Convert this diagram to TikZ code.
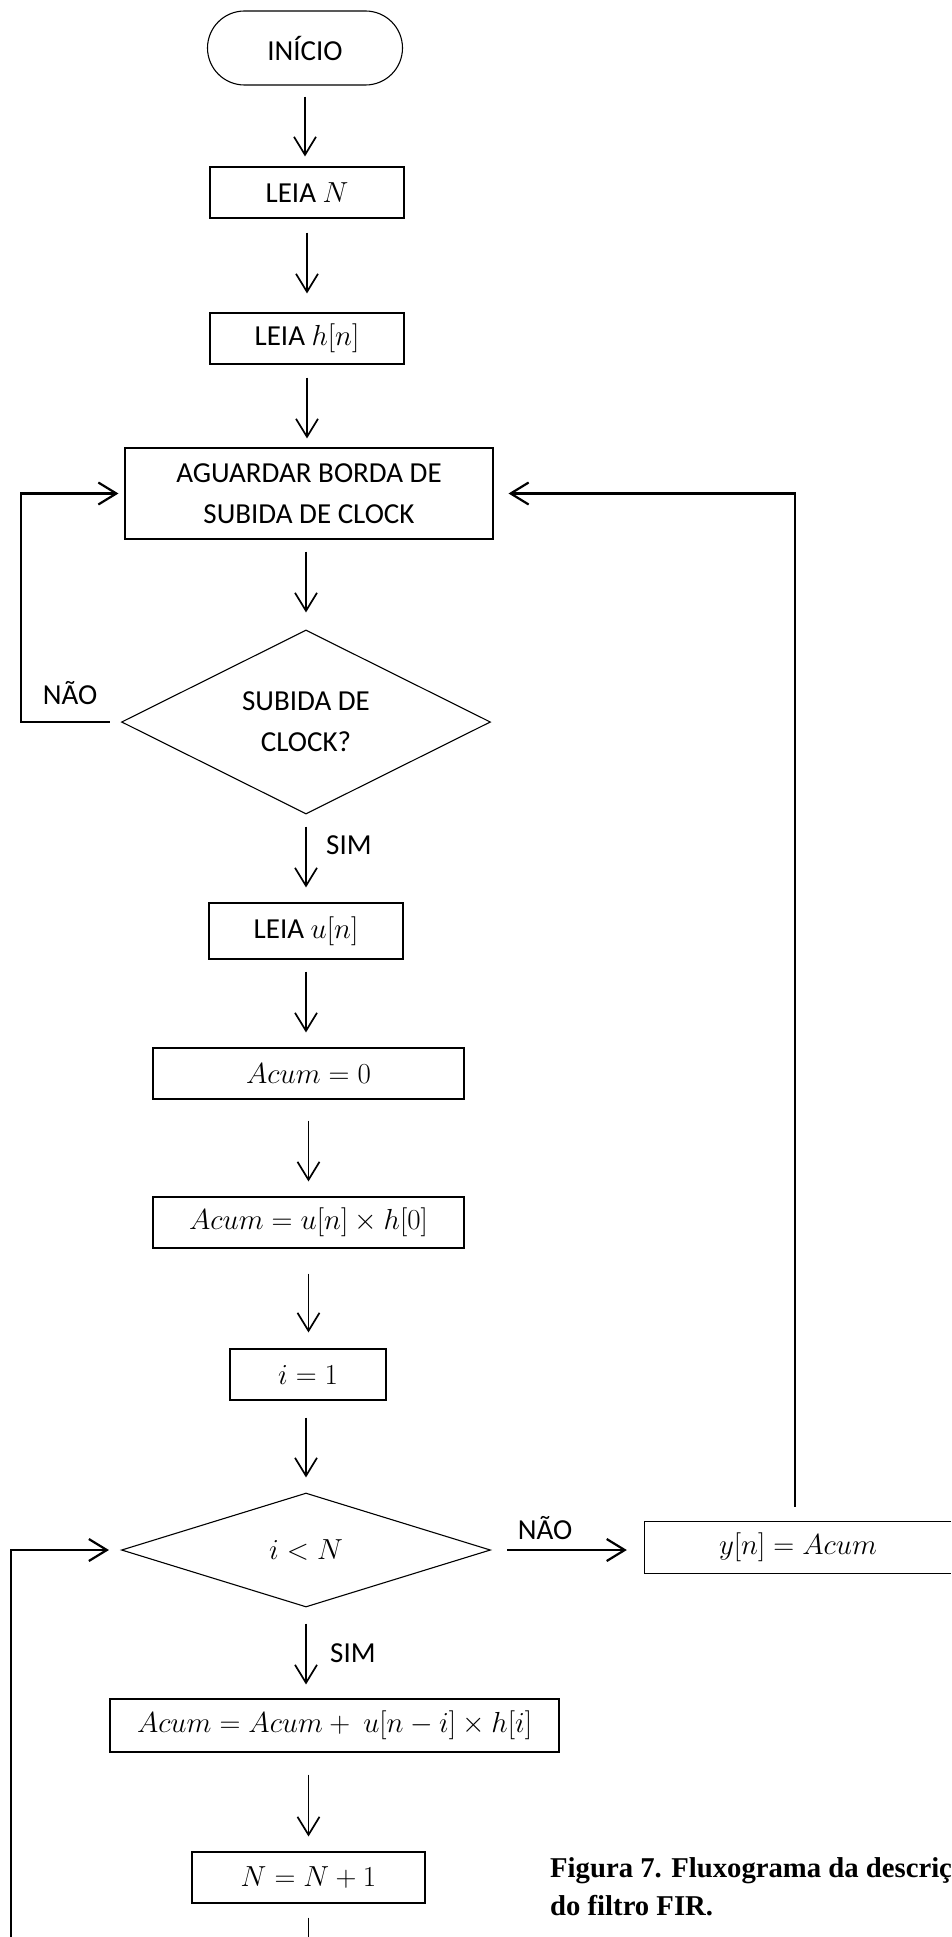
\RequirePackage{fix-cm}
\documentclass[tikz,border=0pt]{standalone}
\usepackage{fontspec}
\setmainfont{Carlito}
\newfontfamily\capfont{Liberation Serif}
\usetikzlibrary{shapes.geometric,shapes.misc,arrows.meta}
\begin{document}
\begin{tikzpicture}[x=1pt,y=-1pt,
  font=\fontsize{29}{41}\selectfont,
  box/.style={draw,line width=1.1pt,inner sep=0pt,minimum height=51pt,align=center},
  dec/.style={draw,diamond,shape aspect=2,line width=1.1pt,inner sep=0pt,minimum width=369pt,align=center},
  flow/.style={line width=1.7pt,-{Straight Barb[length=18pt,width=22pt]}},
  loopline/.style={line width=2.2pt,-{Straight Barb[length=18pt,width=22pt]}},
  lbl/.style={inner sep=0pt},
  captxt/.style={inner sep=0pt,anchor=base west,font=\capfont\bfseries\fontsize{28.7}{38}\selectfont}]
\useasboundingbox (0,0) rectangle (951,1937);
\clip (0,0) rectangle (951,1937);

\node[rounded rectangle,draw,line width=1.1pt,minimum width=195pt,minimum height=74pt,inner sep=0pt] (inicio) at (305,48) {INÍCIO};
\node[box,minimum width=194pt] (leian) at (307,192.5) {LEIA $N$};
\node[box,minimum width=194pt] (leiah) at (307,338.5) {LEIA $h[n]$};
\node[box,minimum width=368pt,minimum height=91pt] (aguardar) at (309,493.5) {AGUARDAR BORDA DE\\SUBIDA DE CLOCK};
\node[dec,minimum height=184pt] (dec1) at (306,722) {SUBIDA DE\\CLOCK?};
\node[box,minimum width=194pt,minimum height=56pt] (leiau) at (306,931) {LEIA $u[n]$};
\node[box,minimum width=311pt] (acum0) at (308.5,1073.5) {$Acum=0$};
\node[box,minimum width=311pt] (acumh) at (308.5,1222.5) {$Acum=u[n]\times h[0]$};
\node[box,minimum width=156pt] (i1) at (308,1374.5) {$i=1$};
\node[dec,minimum height=114pt] (dec2) at (306,1550) {$i<N$};
\node[inner sep=0pt,minimum width=306pt,minimum height=51pt] (yn) at (798,1547.5) {$y[n]=Acum$};
\draw[line width=1.1pt] (yn.north east) -- (yn.north west) -- (yn.south west) -- (yn.south east);
\node[box,minimum width=449pt,minimum height=53pt] (acumsum) at (334.5,1725.5) {$Acum=Acum+\ u[n-i]\times h[i]$};
\node[box,minimum width=233pt] (nn1) at (308.5,1877.5) {$N=N+1$};

\node[lbl,anchor=west] (sim1) at (326,845) {SIM};
\node[lbl,anchor=west] (sim2) at (330,1653) {SIM};
\node[lbl,anchor=base] (nao1) at (70,704) {NÃO};
\node[lbl] (nao2) at (545,1528) {NÃO};

\node[captxt] (cap1) at (550,1877) {Figura 7. Fluxograma da descrição};
\node[captxt] (cap2) at (550,1915) {do filtro FIR.};

\coordinate (l1) at (21,722);
\coordinate (b1) at (310,1937);
\coordinate (b2) at (11,1937);

\draw[flow,shorten <=11pt,shorten >=10pt] (inicio.south) -- (inicio.south |- leian.north);
\draw[flow,shorten <=14pt,shorten >=19pt] (leian.south) -- (leian.south |- leiah.north);
\draw[flow,shorten <=13pt,shorten >=9pt] (leiah.south) -- (leiah.south |- aguardar.north);
\draw[flow,shorten <=12pt,shorten >=17pt] (aguardar.south -| dec1.north) -- (dec1.north);
\draw[flow,shorten <=12pt,shorten >=15pt] (dec1.south) -- (dec1.south |- leiau.north);
\draw[flow,shorten <=12pt,shorten >=15pt] (leiau.south) -- (leiau.south |- acum0.north);
\draw[flow,shorten <=21pt,shorten >=15pt] (acum0.south) -- (acum0.south |- acumh.north);
\draw[flow,shorten <=25pt,shorten >=16pt] (acumh.south) -- (acumh.south |- i1.north);
\draw[flow,shorten <=17pt,shorten >=15pt] (i1.south -| dec2.north) -- (dec2.north);
\draw[flow,shorten <=16pt,shorten >=14pt] (dec2.south) -- (dec2.south |- acumsum.north);
\draw[flow,shorten <=22pt,shorten >=15pt] (acumsum.south -| nn1.north) -- (nn1.north);
\draw[line width=1.7pt,shorten <=14pt] (nn1.south) -- (nn1.south |- b1);

\draw[loopline,shorten <=11pt,shorten >=6pt] (dec1.west) -- (l1) |- (aguardar.west);
\draw[loopline,shorten <=15pt,shorten >=15pt] ([xshift=-3pt]yn.north) |- (aguardar.east);
\draw[loopline,shorten <=16pt,shorten >=18pt] (dec2.east) -- (dec2.east -| yn.west);
\draw[loopline,shorten >=12pt] (b2) |- (dec2.west);
\end{tikzpicture}
\end{document}
